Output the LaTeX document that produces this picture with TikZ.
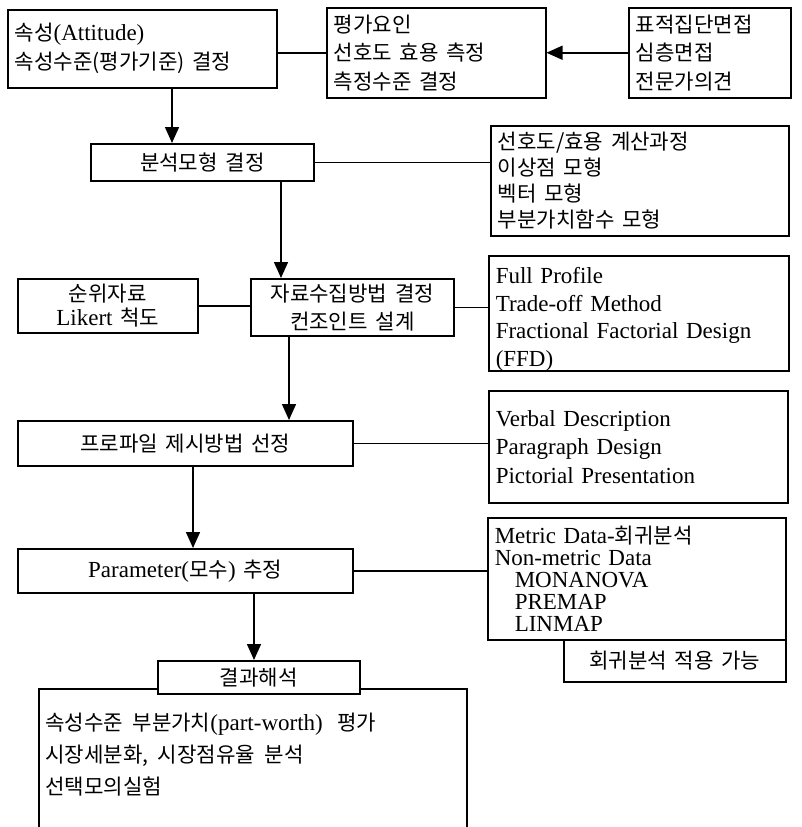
\documentclass[tikz,border=0pt]{standalone}
\usepackage{fontspec}
\setmainfont{Liberation Serif}[WordSpace=2.5]
\newfontfamily\hkfont{Noto Sans CJK KR}[Scale=0.92,WordSpace=2]
\newcommand\hk[1]{{\hkfont #1}}
\usetikzlibrary{arrows.meta}
\tikzset{
  bx/.style={draw, line width=1.5pt, fill=white, anchor=north west, inner xsep=7pt, inner ysep=0pt},
  lft/.style={bx, align=left},
  ctr/.style={bx, align=center},
  fs/.style={font=\fontsize{23}{#1}\selectfont},
  arr/.style={line width=1.5pt, -{Triangle[length=16pt,width=14pt]}},
  ln/.style={line width=1.5pt}
}
\begin{document}
\begin{tikzpicture}[x=1pt,y=-1pt]
\clip (0,0) rectangle (801,827);
\fill[white] (0,0) rectangle (801,827);
% top row
\node[lft, fs=29, text width=255pt, minimum height=78pt] (b1) at (7,9)
  {\hk{속성}(Attitude)\\\hk{속성수준(평가기준) 결정}};
\node[lft, fs=28.5, text width=205pt, minimum height=90pt] (b2) at (326,7)
  {\hk{평가요인}\\\hk{선호도 효용 측정}\\\hk{측정수준 결정}};
\node[lft, fs=28.5, text width=148pt, minimum height=90pt] (b3) at (628,7)
  {\hk{표적집단면접}\\\hk{심층면접}\\\hk{전문가의견}};
% second row
\node[ctr, fs=28, text width=209pt, minimum height=37pt] (b4) at (90,143)
  {\hk{분석모형 결정}};
\node[lft, fs=26, text width=284pt, minimum height=110pt] (b5) at (490,125)
  {\hk{선호도/효용 계산과정}\\\hk{이상점 모형}\\\hk{벡터 모형}\\\hk{부분가치함수 모형}};
% third row
\node[ctr, fs=24, text width=166pt, minimum height=54pt] (b6) at (17,278)
  {\hk{순위자료}\\Likert \hk{척도}};
\node[ctr, fs=28, text width=189pt, minimum height=57pt] (b7) at (250,278)
  {\hk{자료수집방법 결정}\\\hk{컨조인트 설계}};
\node[lft, fs=27.5, text width=286pt, minimum height=112pt] (b8) at (488,255)
  {\rule{0pt}{28pt}Full Profile\\Trade-off Method\\Fractional Factorial Design\\(FFD)};
% fourth row
\node[ctr, fs=28, text width=321pt, minimum height=45pt] (b10) at (17,420)
  {\hk{프로파일 제시방법 선정}};
\node[lft, fs=28.5, text width=285pt, minimum height=112pt] (b9) at (488,390)
  {Verbal Description\\Paragraph Design\\Pictorial Presentation};
% fifth row
\node[ctr, fs=28, text width=321pt, minimum height=44pt] (b11) at (17,548)
  {Parameter(\hk{모수}) \hk{추정}};
\node[lft, fs=22, text width=284pt, minimum height=122pt] (b12) at (487,517)
  {Metric Data-\hk{회귀분석}\\Non-metric Data\\\hspace*{20pt}MONANOVA\\\hspace*{20pt}PREMAP\\\hspace*{20pt}LINMAP};
\node[ctr, fs=28, text width=208pt, minimum height=42pt] (b13) at (563,639)
  {\hk{회귀분석 적용 가능}};
% result
\node[bx, minimum width=428pt, minimum height=170pt] (res) at (38,688) {};
\node[anchor=north west, inner sep=0pt, align=left, fs=32] (restext) at (45,713)
  {\hk{속성수준 부분가치}(part-worth) \hk{평가}\\\hk{시장세분화, 시장점유율 분석}\\\hk{선택모의실험}};
\node[ctr, fs=28, text width=188pt, minimum height=33pt] (res2) at (157,660)
  {\hk{결과해석}};
% guide coordinates for vertical arrows
\coordinate (x1) at (172,0);
\coordinate (x2) at (281,0);
\coordinate (x3) at (289,0);
\coordinate (x4) at (193,0);
\coordinate (x5) at (254,0);
% connectors
\draw[ln] (b2.west) -- (b2.west -| b1.east);
\draw[arr] (b3.west) -- (b2.east);
\draw[arr] (b1.south -| x1) -- (b4.north -| x1);
\draw[ln] (b4.east) -- (b4.east -| b5.west);
\draw[arr] (b4.south -| x2) -- (b7.north -| x2);
\draw[ln] (b6.east) -- (b6.east -| b7.west);
\draw[ln] (b7.east) -- (b7.east -| b8.west);
\draw[arr] (b7.south -| x3) -- (b10.north -| x3);
\draw[ln] (b10.east) -- (b10.east -| b9.west);
\draw[arr] (b10.south -| x4) -- (b11.north -| x4);
\draw[ln] (b11.east) -- (b11.east -| b12.west);
\draw[arr] (b11.south -| x5) -- (res2.north -| x5);
\end{tikzpicture}
\end{document}
